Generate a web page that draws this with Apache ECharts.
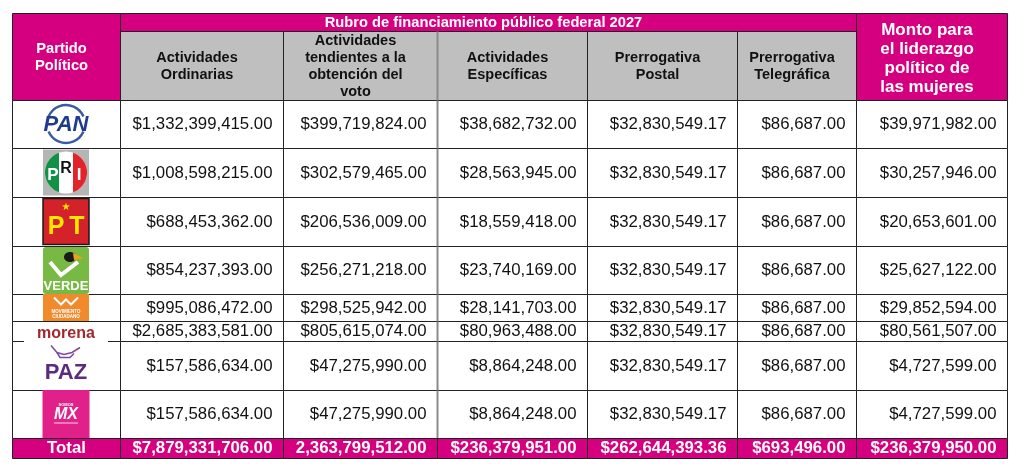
<!DOCTYPE html>
<html>
<head>
<meta charset="utf-8">
<script src="https://cdn.jsdelivr.net/npm/echarts@6/dist/echarts.min.js"></script>
<style>
  html, body { margin: 0; padding: 0; background: #fff; }
  #tabla { width: 1024px; height: 476px; }
</style>
</head>
<body>
<div id="tabla"></div>
<script>
// Datos del financiamiento publico federal 2027 por partido
const partidos = ['PAN', 'PRI', 'PT', 'PVEM', 'MC', 'MORENA', 'PAZ', 'MX'];
const ordinarias = [1332399415, 1008598215, 688453362, 854237393, 995086472, 2685383581, 157586634, 157586634];
const tendientes = [399719824, 302579465, 206536009, 256271218, 298525942, 805615074, 47275990, 47275990];
const especificas = [38682732, 28563945, 18559418, 23740169, 28141703, 80963488, 8864248, 8864248];
const postal = [32830549.17, 32830549.17, 32830549.17, 32830549.17, 32830549.17, 32830549.17, 32830549.17, 32830549.17];
const telegrafica = [86687, 86687, 86687, 86687, 86687, 86687, 86687, 86687];
const mujeres = [39971982, 30257946, 20653601, 25627122, 29852594, 80561507, 4727599, 4727599];
const totales = ['$7,879,331,706.00', '2,363,799,512.00', '$236,379,951.00', '$262,644,393.36', '$693,496.00', '$236,379,950.00'];

const encabezados = ['Actividades\nOrdinarias', 'Actividades\ntendientes a la\nobtención del\nvoto',
    'Actividades\nEspecíficas', 'Prerrogativa\nPostal', 'Prerrogativa\nTelegráfica'];
const rubro = 'Rubro de financiamiento público federal 2027';
const partidoTitulo = 'Partido\nPolítico';
const montoTitulo = 'Monto para\nel liderazgo\npolítico de\nlas mujeres';

// Tamaños de columnas y filas (en px)
const anchos = [108, 163, 154, 150, 150, 119, 151];
const altos = [18, 69, 48, 49, 49, 48, 27, 20, 49, 48, 20];

const ROSA = '#D5007F';
const GRIS = '#BFBFBF';
const FUENTE = 'Liberation Sans';
const TAM_VALOR = 16.8;
const DESPLAZA_TITULO = -5;   // los titulos van un poco a la izquierda

function acumular(arr) {
    let out = [0];
    arr.forEach(v => out.push(out[out.length - 1] + v));
    return out;
}
const colX = acumular(anchos);
const filaY = acumular(altos);

function moneda(v) {
    let partes = v.toFixed(2).split('.');
    return '$' + partes[0].replace(/\B(?=(\d{3})+(?!\d))/g, ',') + '.' + partes[1];
}

// armar las celdas de la tabla
let celdas = [];
function celda(c0, c1, f0, f1, texto, tipo) {
    celdas.push({ c0: c0, c1: c1, f0: f0, f1: f1, texto: texto, tipo: tipo });
}
celda(0, 1, 0, 2, partidoTitulo, 'rosaTitulo');
celda(1, 6, 0, 1, rubro, 'rosaTitulo');
encabezados.forEach((t, i) => celda(i + 1, i + 2, 1, 2, t, 'gris'));
celda(6, 7, 0, 2, montoTitulo, 'rosaMonto');

const columnas = [ordinarias, tendientes, especificas, postal, telegrafica, mujeres];
partidos.forEach((p, i) => {
    celda(0, 1, i + 2, i + 3, '', 'logo');
    columnas.forEach((col, j) => celda(j + 1, j + 2, i + 2, i + 3, moneda(col[i]), 'valor'));
});
celda(0, 1, 10, 11, 'Total', 'totalTitulo');
totales.forEach((t, j) => celda(j + 1, j + 2, 10, 11, t, 'total'));

function txt(t, x, y, size, fill, extra) {
    return {
        type: 'text',
        style: Object.assign({
            text: t, x: x, y: y, fontSize: size, fontFamily: FUENTE, fontWeight: 'normal',
            fill: fill, align: 'center', verticalAlign: 'middle'
        }, extra || {})
    };
}

function dibujarCelda(params, api) {
    let d = celdas[api.value(4)];
    let p0 = api.coord([api.value(0), api.value(1)]);
    let p1 = api.coord([api.value(2), api.value(3)]);
    let x0 = Math.floor(p0[0]) + 0.5, y0 = Math.floor(p0[1]) + 0.5;
    let x1 = Math.floor(p1[0]) + 0.5, y1 = Math.floor(p1[1]) + 0.5;
    let cx = (x0 + x1) / 2, cy = (y0 + y1) / 2;
    let fill = '#fff';
    let hijos = [];

    if (d.tipo === 'rosaTitulo' || d.tipo === 'rosaMonto' || d.tipo === 'total' || d.tipo === 'totalTitulo') fill = ROSA;
    if (d.tipo === 'gris') fill = GRIS;

    hijos.push({
        type: 'rect',
        shape: { x: x0, y: y0, width: x1 - x0, height: y1 - y0 },
        style: { fill: fill, stroke: '#222', lineWidth: 1 }
    });

    if (d.tipo === 'rosaTitulo') {
        hijos.push(txt(d.texto, cx + DESPLAZA_TITULO, cy, 14.7, '#fff', { fontWeight: 'bold', lineHeight: 17 }));
    } else if (d.tipo === 'rosaMonto') {
        hijos.push(txt(d.texto, cx + DESPLAZA_TITULO, cy + 2, 17, '#fff', { fontWeight: 'bold', lineHeight: 19 }));
    } else if (d.tipo === 'gris') {
        hijos.push(txt(d.texto, cx + DESPLAZA_TITULO, cy, 14.5, '#111', { fontWeight: 'bold', lineHeight: 17 }));
    } else if (d.tipo === 'valor') {
        hijos.push(txt(d.texto, x1 - 11, cy, TAM_VALOR, '#111', { align: 'right' }));
    } else if (d.tipo === 'totalTitulo') {
        hijos.push(txt(d.texto, cx, cy, TAM_VALOR, '#fff', { fontWeight: 'bold' }));
    } else if (d.tipo === 'total') {
        hijos.push(txt(d.texto, x1 - 11, cy, TAM_VALOR, '#fff', { fontWeight: 'bold', align: 'right' }));
    }

    // linea gris mas gruesa antes de "Actividades Especificas"
    if (d.c0 === 3 && d.f0 >= 1 && d.f0 <= 9) {
        hijos.push({
            type: 'line',
            shape: { x1: x0, y1: y0, x2: x0, y2: y1 },
            style: { stroke: '#8a8a8a', lineWidth: 2 }
        });
    }
    return { type: 'group', children: hijos };
}

function segmento(cx, cy, r, a1, a2, fill) {
    let pts = [];
    for (let k = 0; k <= 24; k++) {
        let a = a1 + (a2 - a1) * k / 24;
        pts.push([cx + r * Math.cos(a), cy + r * Math.sin(a)]);
    }
    return { type: 'polygon', shape: { points: pts }, style: { fill: fill } };
}

function dibujarLogo(params, api) {
    let p0 = api.coord([api.value(0), api.value(1)]);
    let p1 = api.coord([api.value(2), api.value(3)]);
    let cx = (p0[0] + p1[0]) / 2, cy = (p0[1] + p1[1]) / 2;
    let top = p0[1], h = p1[1] - p0[1];
    let nombre = partidos[api.value(4)];
    let hijos = [];

    if (nombre === 'PAN') {
        hijos.push({ type: 'arc', shape: { cx: cx, cy: cy, r: 19, startAngle: Math.PI * 1.13, endAngle: Math.PI * 1.87 },
            style: { stroke: '#3a5aa5', lineWidth: 2.5, fill: null } });
        hijos.push({ type: 'arc', shape: { cx: cx, cy: cy, r: 19, startAngle: Math.PI * 0.13, endAngle: Math.PI * 0.87 },
            style: { stroke: '#3a5aa5', lineWidth: 2.5, fill: null } });
        hijos.push(txt('PAN', cx, cy + 1, 22, '#1f3c8c', { fontWeight: 'bold', fontStyle: 'italic' }));
    } else if (nombre === 'PRI') {
        let r = 21, d = 7;
        hijos.push({ type: 'rect', shape: { x: cx - 23, y: cy - 23, width: 46, height: 46 }, style: { fill: '#b5b5b5' } });
        hijos.push({ type: 'circle', shape: { cx: cx, cy: cy, r: r }, style: { fill: '#fff' } });
        let t0 = Math.acos(-d / r), t1 = Math.acos(d / r);
        hijos.push(segmento(cx, cy, r, t0, 2 * Math.PI - t0, '#119146'));
        hijos.push(segmento(cx, cy, r, -t1, t1, '#e2232a'));
        hijos.push(txt('P', cx - 13, cy + 3, 17, '#fff', { fontWeight: 'bold' }));
        hijos.push(txt('R', cx, cy - 4, 16, '#111', { fontWeight: 'bold' }));
        hijos.push(txt('I', cx + 13, cy + 3, 17, '#fff', { fontWeight: 'bold' }));
    } else if (nombre === 'PT') {
        hijos.push({ type: 'rect', shape: { x: cx - 23, y: cy - 23, width: 46, height: 46 },
            style: { fill: '#d3222a', stroke: '#1a1a1a', lineWidth: 1.5 } });
        hijos.push(txt('★', cx, cy - 14, 10, '#ffe600', { fontFamily: 'DejaVu Sans' }));
        hijos.push(txt('P', cx - 10, cy + 6, 25, '#ffe600', { fontWeight: 'bold' }));
        hijos.push(txt('T', cx + 11, cy + 6, 25, '#ffe600', { fontWeight: 'bold' }));
    } else if (nombre === 'PVEM') {
        hijos.push({ type: 'rect', shape: { x: cx - 23, y: cy - 23, width: 46, height: 47, r: 3 }, style: { fill: '#78b944' } });
        hijos.push({ type: 'polyline', shape: { points: [[cx - 16, cy - 8], [cx - 5, cy + 5], [cx + 12, cy - 8]] },
            style: { stroke: '#fff', lineWidth: 4, fill: null } });
        hijos.push({ type: 'ellipse', shape: { cx: cx + 4, cy: cy - 13, rx: 6, ry: 5 }, style: { fill: '#1a1a1a' } });
        hijos.push({ type: 'polygon', shape: { points: [[cx + 7, cy - 17], [cx + 17, cy - 12], [cx + 8, cy - 10]] }, style: { fill: '#f6a01a' } });
        hijos.push(txt('VERDE', cx, cy + 16, 13, '#fff', { fontWeight: 'bold' }));
    } else if (nombre === 'MC') {
        hijos.push({ type: 'rect', shape: { x: cx - 23, y: top, width: 46, height: h }, style: { fill: '#f08a2c' } });
        hijos.push({ type: 'polyline', shape: { points: [[cx - 12, cy - 10], [cx - 5, cy - 3], [cx, cy - 8], [cx + 5, cy - 3], [cx + 12, cy - 10]] },
            style: { stroke: '#fff', lineWidth: 2, fill: null } });
        hijos.push(txt('MOVIMIENTO\nCIUDADANO', cx, cy + 7, 4.5, '#fff', { fontWeight: 'bold', lineHeight: 5 }));
    } else if (nombre === 'MORENA') {
        hijos.push({ type: 'rect', shape: { x: cx - 42, y: top + 1, width: 84, height: h + 1.5 }, style: { fill: '#fff' } });
        hijos.push(txt('morena', cx, cy + 3, 16, '#a3282b', { fontWeight: 'bold' }));
    } else if (nombre === 'PAZ') {
        hijos.push({ type: 'polyline', shape: { points: [[cx - 15, cy - 20], [cx - 9, cy - 13], [cx - 2, cy - 11], [cx + 6, cy - 13], [cx + 14, cy - 18]] },
            style: { stroke: '#7b4a9f', lineWidth: 1.5, fill: null } });
        hijos.push({ type: 'polyline', shape: { points: [[cx - 9, cy - 13], [cx - 6, cy - 8], [cx + 4, cy - 8], [cx + 8, cy - 12]] },
            style: { stroke: '#7b4a9f', lineWidth: 1.5, fill: null } });
        hijos.push(txt('PAZ', cx, cy + 7, 22, '#5c2a7e', { fontWeight: 'bold' }));
    } else if (nombre === 'MX') {
        hijos.push({ type: 'rect', shape: { x: cx - 23.5, y: top, width: 47, height: h }, style: { fill: '#e0218a' } });
        hijos.push(txt('SOMOS', cx, cy - 9, 4, '#fff', { fontWeight: 'bold' }));
        hijos.push(txt('MX', cx, cy + 1, 16, '#fff', { fontWeight: 'bold', fontStyle: 'italic' }));
        hijos.push({ type: 'line', shape: { x1: cx - 12, y1: cy + 9, x2: cx + 12, y2: cy + 9 }, style: { stroke: '#fff', lineWidth: 0.8 } });
    }
    return { type: 'group', children: hijos };
}

let chart = echarts.init(document.getElementById('tabla'));
let option = {
    animation: false,
    grid: { left: 12, top: 13, width: colX[colX.length - 1], height: filaY[filaY.length - 1] },
    xAxis: { type: 'value', min: 0, max: colX[colX.length - 1], show: false },
    yAxis: { type: 'value', min: 0, max: filaY[filaY.length - 1], inverse: true, show: false },
    series: [
        {
            type: 'custom',
            name: 'celdas',
            renderItem: dibujarCelda,
            clip: false,
            z: 2,
            data: celdas.map((d, i) => [colX[d.c0], filaY[d.f0], colX[d.c1], filaY[d.f1], i])
        },
        {
            type: 'custom',
            name: 'logos',
            renderItem: dibujarLogo,
            clip: false,
            z: 3,
            data: partidos.map((p, i) => [colX[0], filaY[i + 2], colX[1], filaY[i + 3], i])
        }
    ]
};

option && chart.setOption(option);
</script>
</body>
</html>
